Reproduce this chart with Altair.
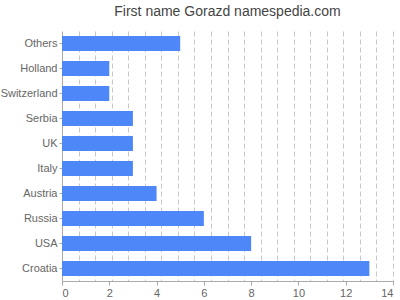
import altair as alt
import pandas as pd

countries = ["Others", "Holland", "Switzerland", "Serbia", "UK", "Italy", "Austria", "Russia", "USA", "Croatia"]
counts = [5, 2, 2, 3, 3, 3, 4, 6, 8, 13]
x_labels = [0, 2, 4, 6, 8, 10, 12, 14]
grid_vals = [0.7, 1.4, 2.1, 2.8, 3.5, 4.2, 4.9, 5.6, 6.3, 7.0, 7.7, 8.4, 9.1, 9.8, 10.5, 11.2, 11.9, 12.6, 13.3, 14.0]

df = pd.DataFrame({"country": countries, "count": counts})

scale = alt.Scale(domain=[0, 14], nice=False, zero=True)

grid = alt.Chart(df).mark_point(opacity=0).encode(
    x=alt.X("count:Q", scale=scale, axis=alt.Axis(
        orient="top", values=grid_vals, grid=True, gridColor="#c8c8c8", gridDash=[5, 3], gridWidth=1,
        labels=False, ticks=False, domain=False, title=None)),
)

bars = alt.Chart(df).mark_bar(color="#4e87f7", cornerRadius=0).encode(
    x=alt.X("count:Q", scale=scale, axis=alt.Axis(
        orient="bottom", values=x_labels, grid=False, labelColor="#666666", labelFontSize=11,
        labelFont="Liberation Sans", domainColor="#aaaaaa", tickColor="#aaaaaa",
        tickSize=4, labelPadding=2, title=None)),
    y=alt.Y("country:N", sort=countries, scale=alt.Scale(paddingInner=0.4, paddingOuter=0.2),
            axis=alt.Axis(labelColor="#666666", labelFontSize=11, labelFont="Liberation Sans",
                          domainColor="#aaaaaa", tickColor="#aaaaaa", tickSize=3,
                          labelPadding=2, title=None)),
)

chart = alt.layer(grid, bars).resolve_axis(x="independent").properties(
    width=331, height=250,
    title=alt.TitleParams("First name Gorazd namespedia.com", fontSize=14, color="#444444",
                          font="Liberation Sans", fontWeight="normal", anchor="middle", offset=12),
    autosize=alt.AutoSizeParams(type="none"),
    padding={"left": 62, "top": 31, "right": 7, "bottom": 19},
).configure_view(stroke=None)

chart.save("out.html", embed_options={"renderer": "svg", "actions": False})
